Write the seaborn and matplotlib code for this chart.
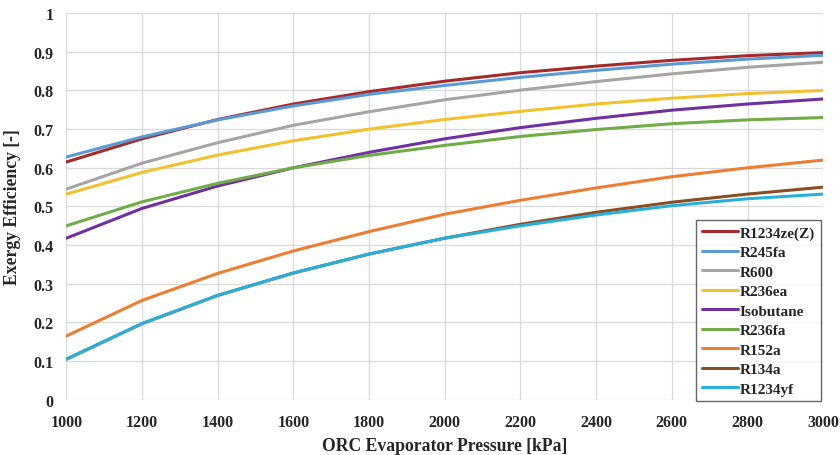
import pandas as pd
import matplotlib.pyplot as plt
import seaborn as sns

pressure = [1000, 1200, 1400, 1600, 1800, 2000, 2200, 2400, 2600, 2800, 3000]

r1234zeZ = [0.615, 0.675, 0.725, 0.765, 0.797, 0.824, 0.846, 0.863, 0.878, 0.890, 0.898]
r245fa = [0.628, 0.680, 0.724, 0.760, 0.790, 0.813, 0.834, 0.852, 0.868, 0.881, 0.891]
r600 = [0.545, 0.612, 0.665, 0.710, 0.745, 0.776, 0.801, 0.823, 0.843, 0.860, 0.873]
r236ea = [0.532, 0.588, 0.633, 0.670, 0.700, 0.725, 0.746, 0.765, 0.780, 0.792, 0.800]
isobutane = [0.418, 0.495, 0.553, 0.600, 0.640, 0.675, 0.704, 0.728, 0.749, 0.765, 0.778]
r236fa = [0.450, 0.512, 0.560, 0.600, 0.632, 0.658, 0.681, 0.699, 0.714, 0.724, 0.730]
r152a = [0.165, 0.257, 0.327, 0.385, 0.435, 0.480, 0.516, 0.548, 0.577, 0.600, 0.620]
r134a = [0.105, 0.197, 0.270, 0.328, 0.377, 0.418, 0.454, 0.485, 0.511, 0.532, 0.550]
r1234yf = [0.105, 0.197, 0.270, 0.328, 0.377, 0.418, 0.450, 0.478, 0.502, 0.520, 0.532]

fluids = {
    "R1234ze(Z)": r1234zeZ,
    "R245fa": r245fa,
    "R600": r600,
    "R236ea": r236ea,
    "Isobutane": isobutane,
    "R236fa": r236fa,
    "R152a": r152a,
    "R134a": r134a,
    "R1234yf": r1234yf,
}
colors = ["#A52A2A", "#5B9BD5", "#A5A5A5", "#F2C12E", "#7030A0",
          "#70AD47", "#ED7D31", "#8B4E24", "#27B0DC"]

# long form table for seaborn
df = pd.DataFrame([
    {"pressure": p, "eff": v, "fluid": name}
    for name, vals in fluids.items()
    for p, v in zip(pressure, vals)
])

sns.set_style("white")
plt.rcParams["font.family"] = ["Liberation Serif", "DejaVu Serif"]
plt.rcParams["font.weight"] = "bold"

fig = plt.figure(figsize=(8.4, 4.56), dpi=100)
ax = fig.add_axes([0.079, 0.121, 0.901, 0.848])

sns.lineplot(data=df, x="pressure", y="eff", hue="fluid", palette=colors,
             linewidth=2.2, ax=ax, legend=True)

ax.set_xlim(1000, 3000)
ax.set_ylim(0, 1)
ax.set_xticks(range(1000, 3001, 200))
ax.set_yticks([0, 0.1, 0.2, 0.3, 0.4, 0.5, 0.6, 0.7, 0.8, 0.9, 1])
ax.set_yticklabels(["0", "0.1", "0.2", "0.3", "0.4", "0.5", "0.6", "0.7", "0.8", "0.9", "1"])
ax.grid(True, color="#D9D9D9", linewidth=0.9)
for s in ax.spines.values():
    s.set_visible(False)
ax.tick_params(axis="x", length=0, labelsize=11.5, pad=10)
ax.tick_params(axis="y", length=0, labelsize=11.5, pad=9)
for lab in ax.get_xticklabels() + ax.get_yticklabels():
    lab.set_fontweight("bold")

ax.set_xlabel("ORC Evaporator Pressure [kPa]", fontsize=12.7, fontweight="bold", labelpad=5)
ax.set_ylabel("Exergy Efficiency [-]", fontsize=12.7, fontweight="bold", labelpad=9)

leg = ax.legend(loc="lower right", frameon=True, fancybox=False, fontsize=11,
                handlelength=2.4, handletextpad=0.1, borderpad=0.35,
                labelspacing=0.38, borderaxespad=0.0,
                bbox_to_anchor=(0.9965, -0.003))
leg.get_frame().set_edgecolor("#404040")
leg.get_frame().set_linewidth(1.0)
for t in leg.get_texts():
    t.set_fontweight("bold")
for l in leg.get_lines():
    l.set_linewidth(2.2)

fig.savefig("out.png", dpi=100)
